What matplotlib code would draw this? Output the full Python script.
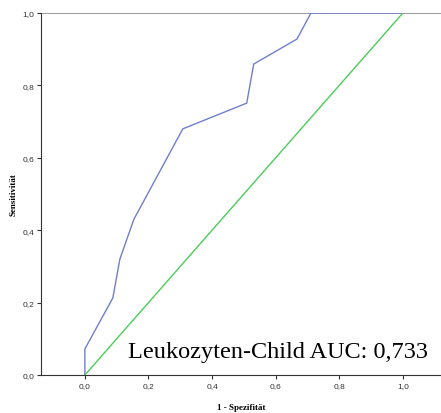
import matplotlib
matplotlib.use('Agg')
import matplotlib.pyplot as plt

# ROC-Kurve
fpr = [0.0, 0.0, 0.088, 0.11, 0.154, 0.308, 0.509, 0.531, 0.667, 0.711, 1.0]
tpr = [0.0, 0.072, 0.213, 0.32, 0.43, 0.68, 0.751, 0.859, 0.928, 1.0, 1.0]
ref_line = [0.0, 1.0]
ticks = [0.0, 0.2, 0.4, 0.6, 0.8, 1.0]
tick_labels = ['0,0', '0,2', '0,4', '0,6', '0,8', '1,0']
auc_text = 'Leukozyten-Child AUC: 0,733'

fig = plt.figure(figsize=(4.41, 4.14), dpi=100)
ax = fig.add_axes([41 / 441, 38 / 414, 400 / 441, 362 / 414])

ax.plot(fpr, tpr, color='#6f7fcc', lw=1.0)
ax.plot(ref_line, ref_line, color='#4ccc5a', lw=1.0)
ax.axhline(1.0, color='#8a8a8a', lw=1.2, zorder=0)

ax.set_xlim(-0.138, 1.12)
ax.set_ylim(0, 1)
ax.spines['top'].set_visible(False)
ax.spines['right'].set_visible(False)
ax.spines['left'].set_color('#333333')
ax.spines['bottom'].set_color('#333333')

ax.set_xticks(ticks)
ax.set_xticklabels(tick_labels, family='Liberation Sans')
ax.set_yticks(ticks)
ax.set_yticklabels(tick_labels, family='Liberation Sans')
ax.tick_params(labelsize=6, length=3, width=0.8, colors='#333333', pad=2)

ax.set_xlabel('1 - Spezifität', family='Liberation Serif', fontweight='bold', fontsize=6.5, labelpad=10)
ax.set_ylabel('Sensitivität', family='Liberation Serif', fontweight='bold', fontsize=6.5, labelpad=3)

ax.text(0.135, 0.05, auc_text, family='Liberation Serif', fontsize=17.5, color='black')

plt.savefig('out.png', dpi=100)
